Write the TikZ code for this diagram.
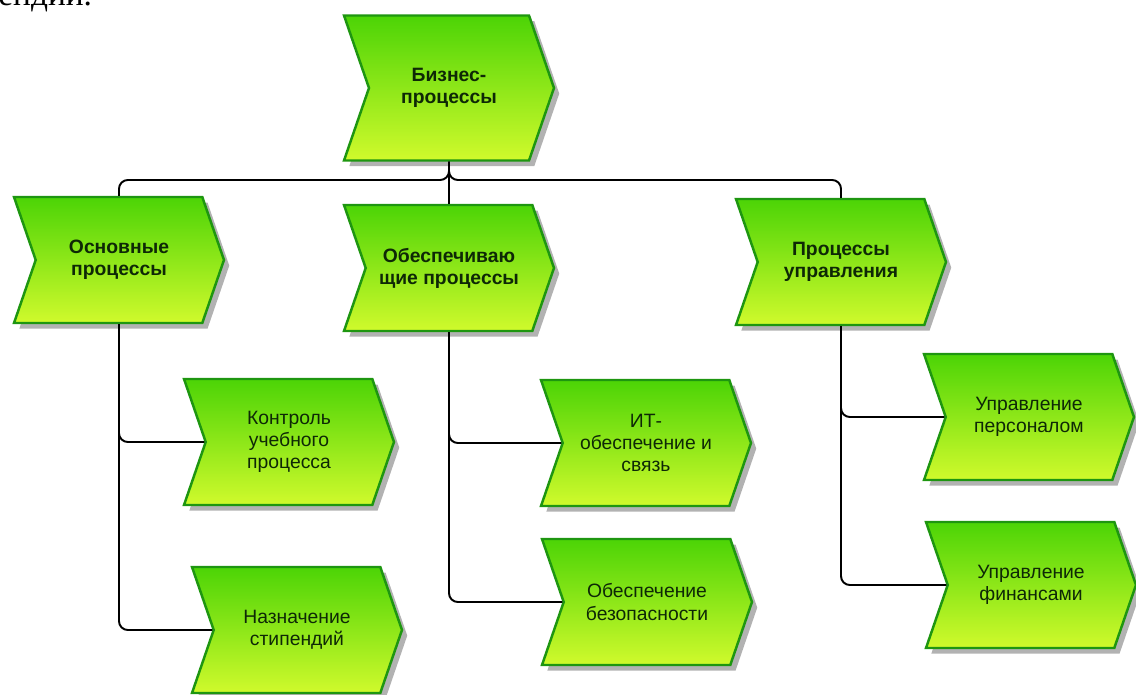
\documentclass[tikz,border=0pt]{standalone}
\usepackage{fontspec}
\setmainfont{Liberation Serif}
\newfontfamily\boxfont{Liberation Sans}
\usetikzlibrary{shapes.symbols,shadows,positioning}
\definecolor{epcTop}{RGB}{76,212,6}
\definecolor{epcBot}{RGB}{208,250,44}
\definecolor{epcLine}{RGB}{30,150,16}
\definecolor{epcText}{RGB}{14,40,6}
\definecolor{shadowGray}{RGB}{178,178,178}

\begin{document}
\begin{tikzpicture}[x=0.02cm, y=-0.02cm,
  func/.style={signal, signal from=west, signal to=east, signal pointer angle=142,
    draw=epcLine, line width=1.4pt, top color=epcTop, bottom color=epcBot,
    minimum width=4.2cm, minimum height=2.52cm, inner sep=1pt, align=center,
    font=\boxfont\fontsize{11}{12.6}\selectfont, text=epcText,
    drop shadow={shadow xshift=3pt, shadow yshift=-3.2pt, fill=shadowGray, opacity=1}},
  funcb/.style={func, font=\boxfont\bfseries\fontsize{11}{12.6}\selectfont},
  link/.style={draw=black, line width=1.1pt, rounded corners=5pt}
]
  \useasboundingbox (0,0) rectangle (1136,695);

  % cut-off text line above the diagram
  \node[anchor=base west, inner sep=0pt, font=\fontsize{19}{20}\selectfont] (cut) at (-2,6) {ендии.};

  % top level
  \node[funcb, minimum height=2.9cm] (biz) at (449,88) {Бизнес-\\процессы};

  % second level
  \node[funcb] (osn) at (119,260) {Основные\\процессы};
  \node[funcb] (obs) at (449,268) {Обеспечиваю\\щие процессы};
  \node[funcb] (upr) at (841,262) {Процессы\\управления};

  % third level
  \node[func] (kon)  at (289,442) {Контроль\\учебного\\процесса};
  \node[func] (naz)  at (297,630) {Назначение\\стипендий};
  \node[func] (it)   at (646,443) {ИТ-\\обеспечение и\\связь};
  \node[func] (bez)  at (647,602) {Обеспечение\\безопасности};
  \node[func] (pers) at (1029,417) {Управление\\персоналом};
  \node[func] (fin)  at (1031,585) {Управление\\финансами};

  % connectors
  \coordinate (bus) at (0,180);
  \draw[link] (biz.south) -- (biz.south |- bus) -| (osn.north);
  \draw[link] (biz.south) -- (biz.south |- bus) -| (upr.north);
  \draw[link] (biz.south) -- (obs.north);
  \draw[link] (osn.south) |- (kon.west);
  \draw[link] (osn.south) |- (naz.west);
  \draw[link] (obs.south) |- (it.west);
  \draw[link] (obs.south) |- (bez.west);
  \draw[link] (upr.south) |- (pers.west);
  \draw[link] (upr.south) |- (fin.west);
\end{tikzpicture}
\end{document}
